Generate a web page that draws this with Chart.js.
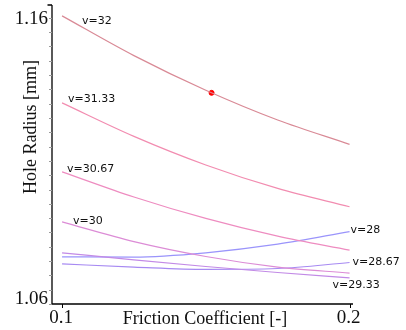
<!DOCTYPE html>
<html>
<head>
<meta charset="utf-8">
<script src="https://cdn.jsdelivr.net/npm/chart.js@4"></script>
<style>
  html, body { margin: 0; padding: 0; background: #fff; }
  #wrap { width: 406px; height: 330px; }
</style>
</head>
<body>
<div id="wrap"><canvas id="chart" width="406" height="330"></canvas></div>
<script>
// Data
const frictionCoef = [0.1, 0.125, 0.15, 0.175, 0.2];
const speedNames = ['v=32', 'v=31.33', 'v=30.67', 'v=30', 'v=29.33', 'v=28.67', 'v=28'];
const radiusV32 = [1.1607, 1.1468, 1.1347, 1.1243, 1.1158];
const radiusV3133 = [1.1303, 1.1186, 1.1086, 1.1004, 1.0940];
const radiusV3067 = [1.1062, 1.0974, 1.0899, 1.0837, 1.0788];
const radiusV30 = [1.0887, 1.0818, 1.0766, 1.0729, 1.0708];
const radiusV2933 = [1.0779, 1.0754, 1.0731, 1.0710, 1.0691];
const radiusV2867 = [1.0740, 1.0729, 1.0721, 1.0724, 1.0745];
const radiusV28 = [1.0765, 1.0764, 1.0779, 1.0809, 1.0853];
const markFriction = [0.152];
const markRadius = [1.1338];
const yTickLabels = [1.06, 1.16];
const xTickLabels = [0.1, 0.2];

const allRadius = [radiusV32, radiusV3133, radiusV3067, radiusV30, radiusV2933, radiusV2867, radiusV28];
const lineColors = ['#d98a96', '#f28cb0', '#ee8cc0', '#dc8cd6', '#c28ae6', '#a78af2', '#9a94fb'];
// where each series name sits: end of the line and pixel offset of its left edge
const namePlace = [
    ['start', 20, 5], ['start', 6, -4], ['start', 5, -3], ['start', 11, -1],
    ['end', -17, 7], ['end', 3, 0], ['end', 1, -1.5]
];

const datasets = allRadius.map((vals, i) => ({
    label: speedNames[i],
    data: frictionCoef.map((f, j) => ({ x: f, y: vals[j] })),
    borderColor: lineColors[i],
    borderWidth: 1.2,
    pointRadius: 0,
    cubicInterpolationMode: 'monotone',
    fill: false
}));
datasets.push({
    label: 'mark',
    type: 'scatter',
    data: markFriction.map((f, j) => ({ x: f, y: markRadius[j] })),
    backgroundColor: '#ff0000',
    borderColor: '#ff0000',
    pointRadius: 2.5
});

// axes, ticks and texts drawn by hand, positioned through the chart scales
const axesPlugin = {
    id: 'axesPlugin',
    afterDraw(chart) {
        const ctx = chart.ctx;
        const xs = chart.scales.x, ys = chart.scales.y;
        const area = chart.chartArea;
        ctx.save();
        ctx.strokeStyle = '#000';
        ctx.lineWidth = 1.3;
        ctx.beginPath();
        ctx.moveTo(area.left, area.top);
        ctx.lineTo(area.left, area.bottom);
        ctx.lineTo(area.right, area.bottom);
        ctx.moveTo(area.left - 4.5, area.top);
        ctx.lineTo(area.left, area.top);
        ctx.stroke();

        // minor ticks on y
        ctx.strokeStyle = '#9a9a9a';
        ctx.lineWidth = 1;
        ctx.beginPath();
        for (let k = 0; k <= 20; k++) {
            const py = Math.round(ys.getPixelForValue(1.06 + k * 0.005)) + 0.5;
            ctx.moveTo(area.left - 3, py);
            ctx.lineTo(area.left, py);
        }
        ctx.stroke();

        // x ticks
        ctx.strokeStyle = '#000';
        ctx.beginPath();
        xTickLabels.forEach(v => {
            const px = Math.round(xs.getPixelForValue(v)) + 0.5;
            ctx.moveTo(px, area.bottom);
            ctx.lineTo(px, area.bottom + 4);
        });
        ctx.stroke();

        ctx.fillStyle = '#111';
        ctx.font = '19px "Liberation Serif", "Times New Roman", serif';
        ctx.textAlign = 'right';
        yTickLabels.forEach((v, i) => {
            const py = ys.getPixelForValue(v);
            ctx.textBaseline = i === 0 ? 'alphabetic' : 'middle';
            ctx.fillText(v.toFixed(2), area.left - 4, i === 0 ? py : py + 1);
        });
        ctx.textAlign = 'center';
        ctx.textBaseline = 'middle';
        xTickLabels.forEach(v => {
            ctx.fillText(String(v), xs.getPixelForValue(v) - 1, 318);
        });

        ctx.font = '18px "Liberation Serif", "Times New Roman", serif';
        ctx.fillText('Friction Coefficient [-]', 205, 319);
        ctx.save();
        ctx.translate(31, 127);
        ctx.rotate(-Math.PI / 2);
        ctx.fillText('Hole Radius [mm]', 0, 0);
        ctx.restore();

        // series names
        ctx.font = '11px "DejaVu Sans", sans-serif';
        ctx.textAlign = 'left';
        ctx.fillStyle = '#111';
        allRadius.forEach((vals, i) => {
            const p = namePlace[i];
            const j = p[0] === 'start' ? 0 : vals.length - 1;
            const px = xs.getPixelForValue(frictionCoef[j]);
            const py = ys.getPixelForValue(vals[j]);
            ctx.fillText(speedNames[i], px + p[1], py + p[2]);
        });
        ctx.restore();
    }
};

new Chart(document.getElementById('chart'), {
    type: 'line',
    data: { datasets: datasets },
    options: {
        responsive: false,
        animation: false,
        layout: { padding: { left: 52, right: 53, top: 5, bottom: 26 } },
        scales: {
            x: { type: 'linear', min: 0.0965, max: 0.2012, display: false },
            y: { type: 'linear', min: 1.06, max: 1.1645, display: false }
        },
        plugins: {
            legend: { display: false },
            tooltip: { enabled: false }
        }
    },
    plugins: [axesPlugin]
});
</script>
</body>
</html>
